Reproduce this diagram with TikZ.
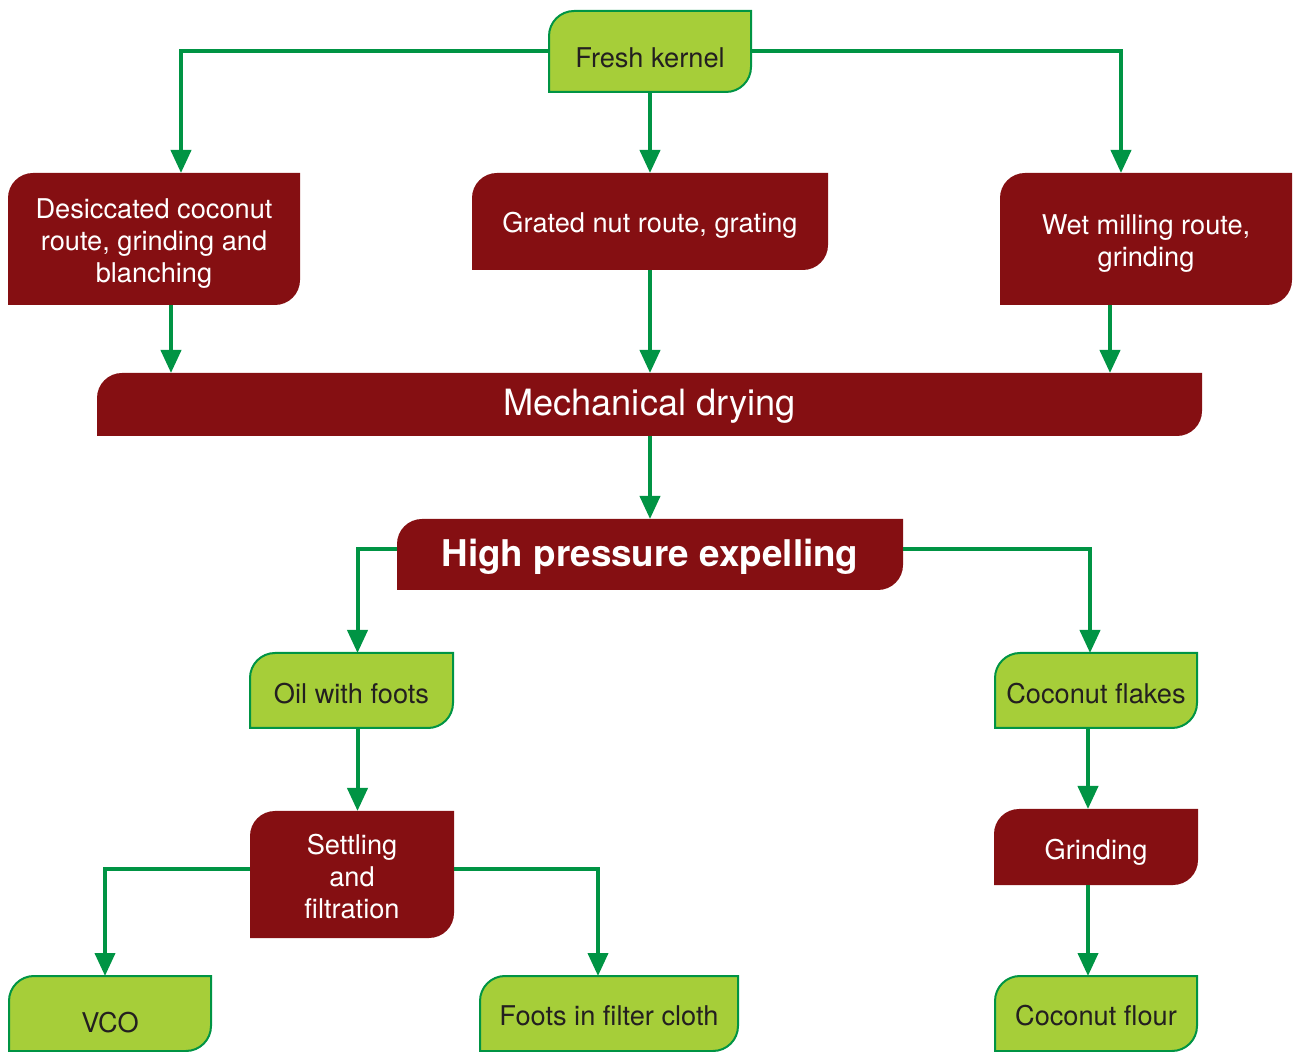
\documentclass[tikz,border=0pt]{standalone}
\usepackage{fontspec}
\setmainfont{TeX Gyre Heros}
\usetikzlibrary{arrows.meta}

\definecolor{leafgreen}{HTML}{A6CE39}
\definecolor{linegreen}{HTML}{009444}
\definecolor{darkred}{HTML}{850F12}
\definecolor{inkdark}{HTML}{231F20}

\newcommand\cornerr{12.5pt}

% #1 name, #2 style, #3-#6 corners x1,y1,x2,y2 (px grid, y downwards), #7 text shift, #8 text
\newcommand\flowbox[8]{%
  \node[boxframe, minimum width={0.5pt*(#5-#3)}, minimum height={0.5pt*(#6-#4)}]
    (#1) at ({(#3+#5)/2},{-(#4+#6)/2}) {};
  \path[#2] (#1.south west) -- ([yshift=-\cornerr]#1.north west)
    arc[start angle=180,end angle=90,radius=\cornerr] -- (#1.north east)
    -- ([yshift=\cornerr]#1.south east)
    arc[start angle=0,end angle=-90,radius=\cornerr] -- cycle;
  \node[#2-txt] (#1-t) at ([yshift=#7]#1.center) {#8};
}

\begin{document}
\begin{tikzpicture}[x=0.5pt,y=0.5pt,
  boxframe/.style={draw=none, inner sep=0pt, outer sep=0pt, rectangle},
  gbox/.style={fill=leafgreen, draw=linegreen, line width=1pt},
  rbox/.style={fill=darkred},
  gbox-txt/.style={text=inkdark, font=\fontsize{13.6}{16}\selectfont, align=center, inner sep=0pt},
  rbox-txt/.style={text=white, font=\fontsize{13.6}{16}\selectfont, align=center, inner sep=0pt},
  bigbox-txt/.style={text=white, font=\fontsize{18.1}{22}\selectfont, inner sep=0pt},
  boldbox-txt/.style={text=white, font=\fontsize{18.4}{22}\selectfont\bfseries, inner sep=0pt},
  bigbox/.style={fill=darkred},
  boldbox/.style={fill=darkred},
  flow/.style={draw=linegreen, line width=2pt, -{Triangle[width=10pt,length=11.5pt]}}
]
\useasboundingbox (0,0) rectangle (1296,-1052);

% source
\flowbox{fk}{gbox}{549}{11}{751}{92}{-3pt}{Fresh kernel}

% three routes
\flowbox{ds}{rbox}{8}{173}{300}{305}{-2.5pt}{Desiccated coconut\\route, grinding and\\blanching}
\flowbox{gr}{rbox}{472}{173}{828}{270}{-1.75pt}{Grated nut route, grating}
\flowbox{wm}{rbox}{1000}{173}{1292}{305}{-2.5pt}{Wet milling route,\\grinding}

% common steps
\flowbox{md}{bigbox}{97}{373}{1202}{436}{-0.75pt}{Mechanical drying}
\flowbox{hp}{boldbox}{397}{519}{903}{590}{-1pt}{High pressure expelling}

% products
\flowbox{oil}{gbox}{250}{653}{453}{728}{-1.75pt}{Oil with foots}
\flowbox{fl}{gbox}{995}{653}{1197}{728}{-1.75pt}{Coconut flakes}
\flowbox{st}{rbox}{250}{811}{454}{938}{-1.25pt}{Settling\\and\\filtration}
\flowbox{gd}{rbox}{994}{809}{1198}{885}{-2.75pt}{Grinding}
\flowbox{vco}{gbox}{9}{976}{211}{1051}{-4.5pt}{VCO}
\flowbox{ff}{gbox}{480}{976}{738}{1051}{-1pt}{Foots in filter cloth}
\flowbox{cf}{gbox}{995}{976}{1197}{1051}{-1pt}{Coconut flour}

% connectors
\draw[flow] (fk.west) -| ([xshift=13.5pt]ds.north);
\draw[flow] (fk.south) -- (gr.north);
\draw[flow] (fk.east) -| ([xshift=-12.5pt]wm.north);

\draw[flow] ([xshift=8.5pt]ds.south) -- ([xshift=8.5pt]ds.south |- md.north);
\draw[flow] (gr.south) -- (gr.south |- md.north);
\draw[flow] ([xshift=-18pt]wm.south) -- ([xshift=-18pt]wm.south |- md.north);

\draw[flow] (md.south -| hp.north) -- (hp.north);

\draw[flow] ([yshift=2.75pt]hp.west) -| ([xshift=3pt]oil.north);
\draw[flow] ([yshift=2.75pt]hp.east) -| ([xshift=-3pt]fl.north);

\draw[flow] ([xshift=3pt]oil.south) -- ([xshift=3pt]oil.south |- st.north);
\draw[flow] ([xshift=-4pt]fl.south) -- ([xshift=-4pt]fl.south |- gd.north);
\draw[flow] ([xshift=-4pt]gd.south) -- ([xshift=-4pt]gd.south |- cf.north);

\draw[flow] ([yshift=2.75pt]st.west) -| ([xshift=-2.5pt]vco.north);
\draw[flow] ([yshift=2.75pt]st.east) -| ([xshift=-5.5pt]ff.north);
\end{tikzpicture}
\end{document}
